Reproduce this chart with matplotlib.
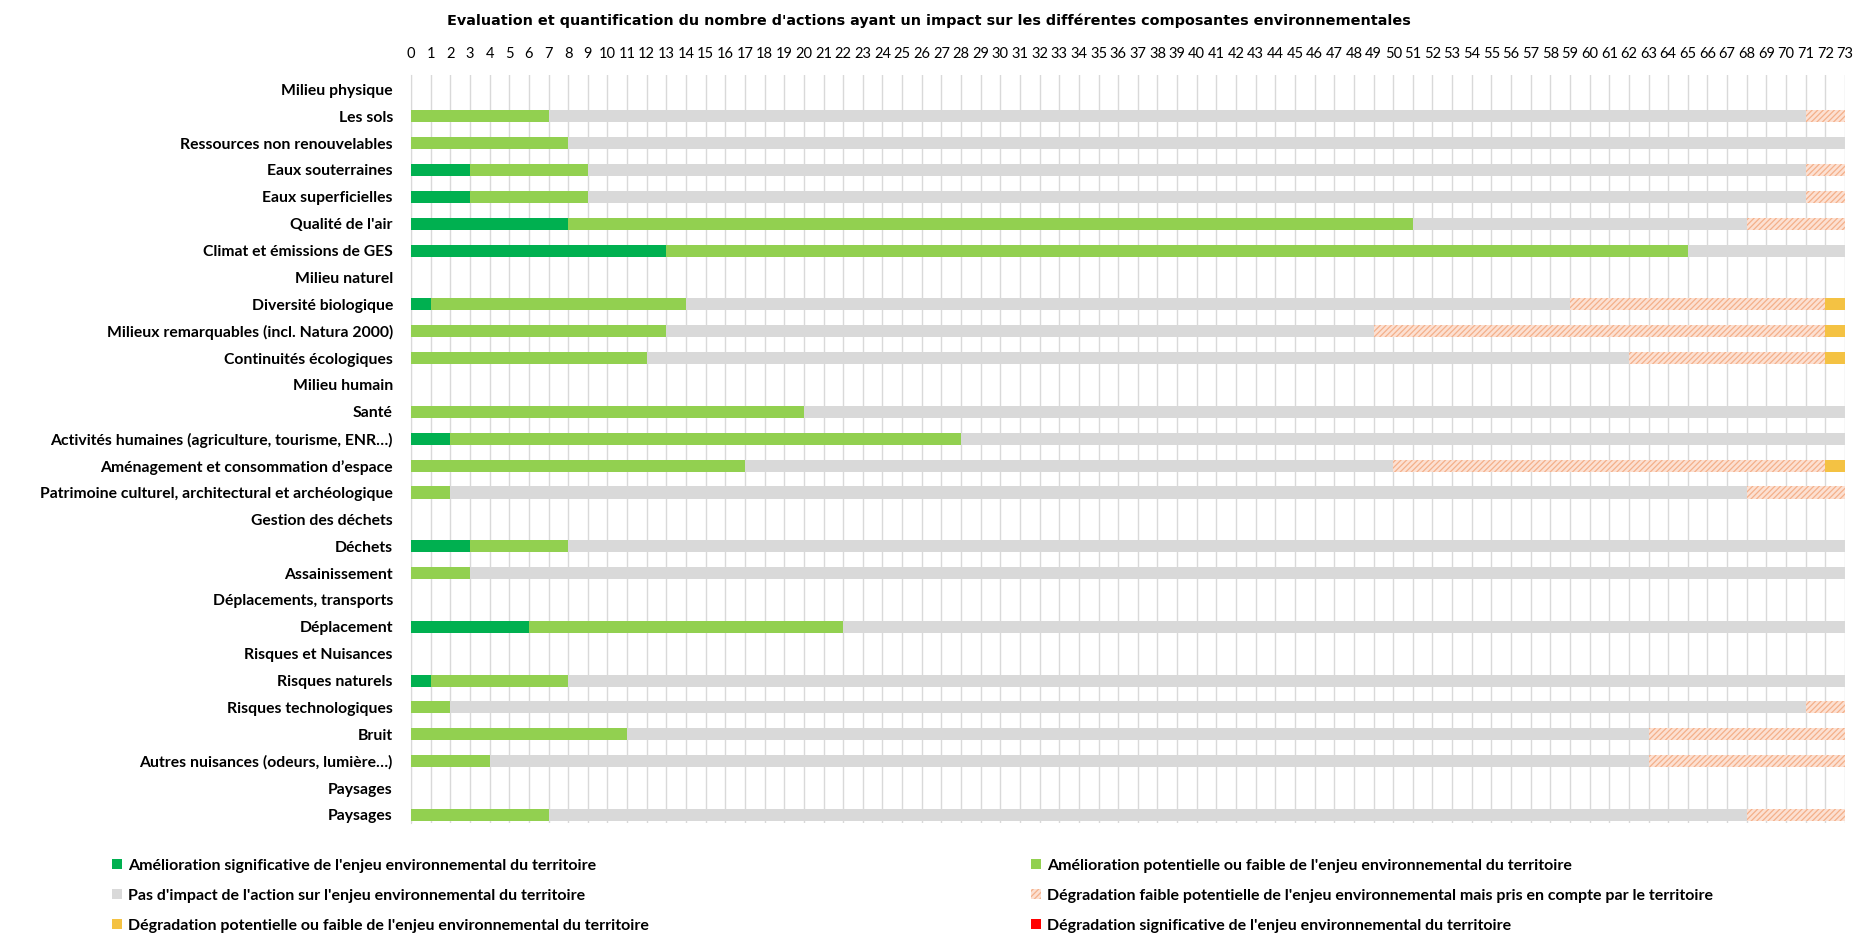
import matplotlib
matplotlib.use("Agg")
import matplotlib.pyplot as plt
from matplotlib import font_manager
from matplotlib.patches import Patch
import numpy as np

avail = {f.name for f in font_manager.fontManager.ttflist}
fam = next((f for f in ["Liberation Sans Narrow", "Lato", "Open Sans"] if f in avail), "DejaVu Sans")
plt.rcParams['font.family'] = [fam, 'DejaVu Sans']
plt.rcParams['hatch.linewidth'] = 0.9

categories = [
    "Milieu physique", "Les sols", "Ressources non renouvelables", "Eaux souterraines",
    "Eaux superficielles", "Qualité de l'air", "Climat et émissions de GES",
    "Milieu naturel", "Diversité biologique", "Milieux remarquables (incl. Natura 2000)",
    "Continuités écologiques", "Milieu humain", "Santé",
    "Activités humaines (agriculture, tourisme, ENR…)",
    "Aménagement et consommation d’espace",
    "Patrimoine culturel, architectural et archéologique",
    "Gestion des déchets", "Déchets", "Assainissement", "Déplacements, transports",
    "Déplacement", "Risques et Nuisances", "Risques naturels", "Risques technologiques",
    "Bruit", "Autres nuisances (odeurs, lumière…)", "Paysages", "Paysages",
]

amelioration_significative = [0, 0, 0, 3, 3, 8, 13, 0, 1, 0, 0, 0, 0, 2, 0, 0, 0, 3, 0, 0, 6, 0, 1, 0, 0, 0, 0, 0]
amelioration_potentielle   = [0, 7, 8, 6, 6, 43, 52, 0, 13, 13, 12, 0, 20, 26, 17, 2, 0, 5, 3, 0, 16, 0, 7, 2, 11, 4, 0, 7]
pas_d_impact               = [0, 64, 65, 62, 62, 17, 8, 0, 45, 36, 50, 0, 53, 45, 33, 66, 0, 65, 70, 0, 51, 0, 65, 69, 52, 59, 0, 61]
degradation_prise_en_compte = [0, 2, 0, 2, 2, 5, 0, 0, 13, 23, 10, 0, 0, 0, 22, 5, 0, 0, 0, 0, 0, 0, 0, 2, 10, 10, 0, 5]
degradation_potentielle    = [0, 0, 0, 0, 0, 0, 0, 0, 1, 1, 1, 0, 0, 0, 1, 0, 0, 0, 0, 0, 0, 0, 0, 0, 0, 0, 0, 0]
degradation_significative  = [0] * 28

series_labels = [
    "Amélioration significative de l'enjeu environnemental du territoire",
    "Amélioration potentielle ou faible de l'enjeu environnemental du territoire",
    "Pas d'impact de l'action sur l'enjeu environnemental du territoire",
    "Dégradation faible potentielle de l'enjeu environnemental mais pris en compte par le territoire",
    "Dégradation potentielle ou faible de l'enjeu environnemental du territoire",
    "Dégradation significative de l'enjeu environnemental du territoire",
]
x_ticks = list(range(0, 74))

series = [amelioration_significative, amelioration_potentielle, pas_d_impact,
          degradation_prise_en_compte, degradation_potentielle, degradation_significative]
colors = ['#00B050', '#92D050', '#D9D9D9', '#FCE0D2', '#F4C243', '#FF0000']
hatches = [None, None, None, '//////', None, None]
hatch_color = '#F4B08A'

fig = plt.figure(figsize=(18.57, 9.34), dpi=100)
ax = fig.add_axes([411/1857, 1-823/934, (1845-411)/1857, (823-74.6)/934])

y = np.arange(len(categories))
left = np.zeros(len(categories))
handles = []
for vals, col, h, lab in zip(series, colors, hatches, series_labels):
    vals = np.array(vals, dtype=float)
    if h:
        ax.barh(y, vals, left=left, height=0.45, color=col, edgecolor=hatch_color,
                hatch=h, linewidth=0, zorder=3)
        handles.append(Patch(facecolor=col, edgecolor=hatch_color, hatch=h, linewidth=0, label=lab))
    else:
        ax.barh(y, vals, left=left, height=0.45, color=col, linewidth=0, zorder=3)
        handles.append(Patch(facecolor=col, linewidth=0, label=lab))
    left += vals

ax.set_xlim(0, 73)
ax.set_ylim(27.3, -0.55)
ax.set_xticks(x_ticks)
ax.set_xticklabels([str(t) for t in x_ticks])
ax.xaxis.tick_top()
ax.tick_params(axis='x', length=0, pad=10, labelsize=10.5, colors='#000000')
ax.set_yticks(y)
ax.set_yticklabels(categories, fontweight='bold', fontsize=11.3)
ax.tick_params(axis='y', length=0, pad=13)
ax.grid(axis='x', color='#D9D9D9', linewidth=1, zorder=0)
ax.set_axisbelow(True)
for s in ['top', 'right', 'bottom']:
    ax.spines[s].set_visible(False)
ax.spines['left'].set_color('#D9D9D9')

fig.suptitle("Evaluation et quantification du nombre d'actions ayant un impact sur les différentes composantes environnementales",
             x=0.5, y=1-14/934, fontsize=10.4, fontweight='bold', va='top', family='DejaVu Sans')

leg_kw = dict(frameon=False, handlelength=0.6, handleheight=0.6, handletextpad=0.4,
              labelspacing=1.0, prop={'weight': 'bold', 'size': 11.5}, borderaxespad=0, borderpad=0)
l1 = fig.legend(handles=[handles[0], handles[2], handles[4]], loc='upper left',
                bbox_to_anchor=(112/1857, 1-859/934), **leg_kw)
l2 = fig.legend(handles=[handles[1], handles[3], handles[5]], loc='upper left',
                bbox_to_anchor=(1031/1857, 1-859/934), **leg_kw)

fig.savefig("out.png", dpi=100, facecolor='white')
